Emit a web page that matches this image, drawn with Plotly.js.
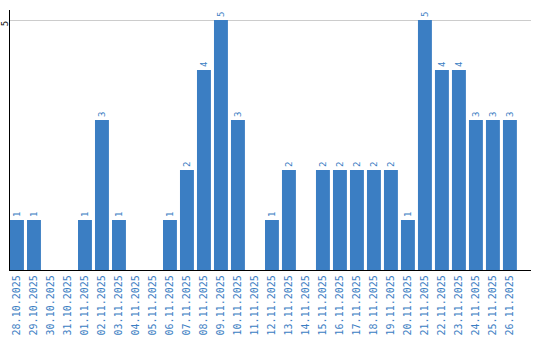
<!DOCTYPE html>
<html><head><meta charset="utf-8">
<script src="https://cdn.plot.ly/plotly-3.0.1.min.js"></script>
<style>html,body{margin:0;padding:0;background:#fff}#c{width:540px;height:340px}</style>
</head><body><div id="c"></div>
<script>
const dates = ["28.10.2025","29.10.2025","30.10.2025","31.10.2025","01.11.2025","02.11.2025","03.11.2025","04.11.2025","05.11.2025","06.11.2025","07.11.2025","08.11.2025","09.11.2025","10.11.2025","11.11.2025","12.11.2025","13.11.2025","14.11.2025","15.11.2025","16.11.2025","17.11.2025","18.11.2025","19.11.2025","20.11.2025","21.11.2025","22.11.2025","23.11.2025","24.11.2025","25.11.2025","26.11.2025"];
const counts = [1,1,0,0,1,3,1,0,0,1,2,4,5,3,0,1,2,0,2,2,2,2,2,1,5,4,4,3,3,3];
const labels = counts.map(v => v > 0 ? String(v) : "");
const blue = "#3b7ec3";
Plotly.newPlot("c", [{
  type: "bar", x: dates, y: counts, text: labels,
  textposition: "outside", textangle: -90, cliponaxis: false,
  textfont: {family: "DejaVu Sans Mono, monospace", size: 9, color: blue},
  marker: {color: blue}, hoverinfo: "none"
}], {
  width: 540, height: 340,
  margin: {l: 10, r: 9, t: 10, b: 70, pad: 0},
  paper_bgcolor: "#fff", plot_bgcolor: "#fff",
  bargap: 0.18, showlegend: false,
  xaxis: {type: "category", range: [-0.41, 30.24], showline: true, linecolor: "#000", linewidth: 1.2,
    tickangle: -90, ticks: "", showgrid: false, zeroline: false,
    tickfont: {family: "DejaVu Sans Mono, monospace", size: 10, color: blue}},
  yaxis: {range: [0, 5.2], tickvals: [5], ticktext: ["5"], tickangle: -90, showline: true, linecolor: "#000", linewidth: 1,
    showgrid: true, gridcolor: "#cccccc", zeroline: false, ticks: "", ticklabelstandoff: -3, ticklabelshift: 5,
    tickfont: {family: "DejaVu Sans Mono, monospace", size: 9, color: "#000"}}
}, {staticPlot: true});
</script></body></html>
